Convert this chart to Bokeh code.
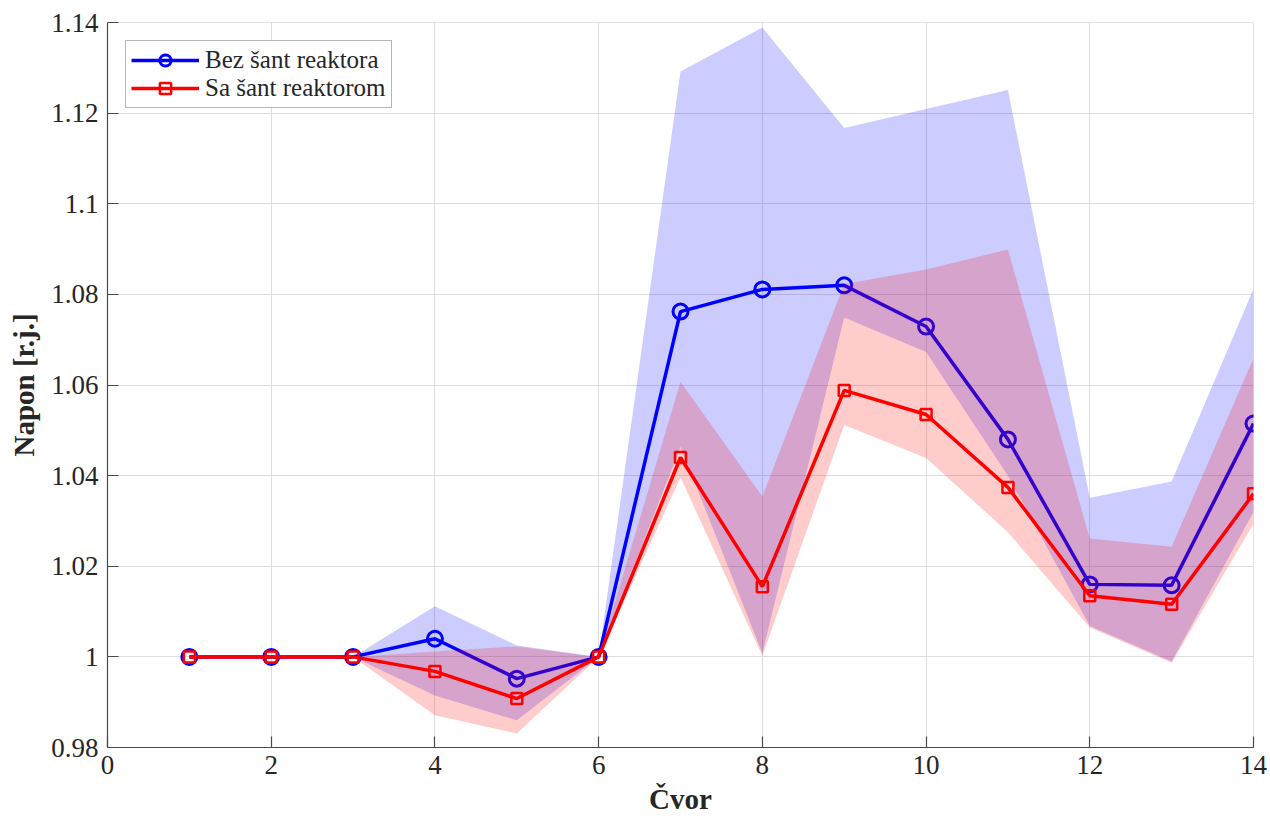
from bokeh.plotting import figure
from bokeh.models import ColumnDataSource, FixedTicker, CustomJSTickFormatter, Legend, LegendItem
from bokeh.embed import file_html
from bokeh.resources import INLINE

# Data
cvor = [1, 2, 3, 4, 5, 6, 7, 8, 9, 10, 11, 12, 13, 14]
bez_mean  = [1.0, 1.0, 1.0, 1.0040, 0.9952, 1.0, 1.0762, 1.0811, 1.0820, 1.0729, 1.0480, 1.0160, 1.0158, 1.0515]
bez_upper = [1.0, 1.0, 1.0, 1.0112, 1.0025, 1.0, 1.1292, 1.1389, 1.1167, 1.1209, 1.1251, 1.0351, 1.0387, 1.0812]
bez_lower = [1.0, 1.0, 1.0, 0.9915, 0.9860, 1.0, 1.0464, 1.0008, 1.0749, 1.0673, 1.0400, 1.0068, 0.9990, 1.0320]
sa_mean   = [1.0, 1.0, 1.0, 0.9968, 0.9908, 1.0, 1.0440, 1.0155, 1.0588, 1.0535, 1.0374, 1.0135, 1.0116, 1.0360]
sa_upper  = [1.0, 1.0, 1.0, 1.0012, 1.0023, 1.0, 1.0607, 1.0354, 1.0823, 1.0855, 1.0899, 1.0261, 1.0243, 1.0659]
sa_lower  = [1.0, 1.0, 1.0, 0.9871, 0.9831, 1.0, 1.0396, 1.0002, 1.0512, 1.0439, 1.0275, 1.0065, 0.9987, 1.0294]

x_ticks = [0, 2, 4, 6, 8, 10, 12, 14]
y_ticks = [0.98, 1.0, 1.02, 1.04, 1.06, 1.08, 1.1, 1.12, 1.14]
label_bez = "Bez šant reaktora"
label_sa = "Sa šant reaktorom"
x_label = "Čvor"
y_label = "Napon [r.j.]"

src_b = ColumnDataSource(dict(x=cvor, y=bez_mean, lo=bez_lower, hi=bez_upper))
src_r = ColumnDataSource(dict(x=cvor, y=sa_mean, lo=sa_lower, hi=sa_upper))

FONT = "Liberation Serif"
BLUE = "#0000ff"
RED = "#ff0000"

p = figure(width=1270, height=820, x_range=(0, 14), y_range=(0.98, 1.14),
           output_backend="svg", toolbar_location=None,
           min_border_left=107, min_border_right=17, min_border_top=22, min_border_bottom=73)

p.background_fill_color = "white"
p.border_fill_color = "white"
p.outline_line_color = "#e2e2e2"

# bands and lines
p.varea(x="x", y1="lo", y2="hi", source=src_b, fill_color=BLUE, fill_alpha=0.2)
lb = p.line(x="x", y="y", source=src_b, line_color=BLUE, line_width=3.5)
sb = p.scatter(x="x", y="y", source=src_b, marker="circle", size=15,
               line_color=BLUE, line_width=3, fill_color=None)
p.varea(x="x", y1="lo", y2="hi", source=src_r, fill_color=RED, fill_alpha=0.2)
lr = p.line(x="x", y="y", source=src_r, line_color=RED, line_width=3.5)
sr = p.scatter(x="x", y="y", source=src_r, marker="square", size=11,
               line_color=RED, line_width=2.5, fill_color=None)

# axes
for ax in (p.xaxis, p.yaxis):
    ax.axis_line_color = "#4a4a4a"
    ax.axis_line_width = 1.2
    ax.major_tick_line_color = "#4a4a4a"
    ax.major_tick_line_width = 1.2
    ax.major_tick_in = 11
    ax.major_tick_out = 0
    ax.minor_tick_line_color = None
    ax.major_label_text_font = FONT
    ax.major_label_text_font_size = "27px"
    ax.major_label_text_color = "#262626"
    ax.axis_label_text_font = FONT
    ax.axis_label_text_font_size = "29px"
    ax.axis_label_text_font_style = "bold"
    ax.axis_label_text_color = "#262626"

p.xaxis.ticker = FixedTicker(ticks=x_ticks)
p.yaxis.ticker = FixedTicker(ticks=y_ticks)
p.yaxis.formatter = CustomJSTickFormatter(code="""
    let s = tick.toFixed(2);
    s = s.replace(/0+$/, '').replace(/\\.$/, '');
    return s;
""")
p.xaxis.major_label_standoff = 8
p.yaxis.major_label_standoff = 9
p.xaxis.axis_label = x_label
p.yaxis.axis_label = y_label
p.xaxis.axis_label_standoff = 6
p.yaxis.axis_label_standoff = 8

p.xgrid.grid_line_color = "#dedede"
p.ygrid.grid_line_color = "#dedede"
p.xgrid.grid_line_width = 1
p.ygrid.grid_line_width = 1

legend = Legend(items=[LegendItem(label=label_bez, renderers=[lb, sb]),
                       LegendItem(label=label_sa, renderers=[lr, sr])],
                location="top_left")
legend.margin = 18
legend.padding = 5
legend.spacing = 0
legend.glyph_width = 68
legend.glyph_height = 28
legend.label_height = 28
legend.label_standoff = 6
legend.label_text_font = FONT
legend.label_text_font_size = "25px"
legend.label_text_color = "#262626"
legend.border_line_color = "#6e6e6e"
legend.border_line_width = 1
legend.background_fill_color = "white"
legend.background_fill_alpha = 1
p.add_layout(legend)

open("out.html", "w").write(file_html(p, INLINE))
